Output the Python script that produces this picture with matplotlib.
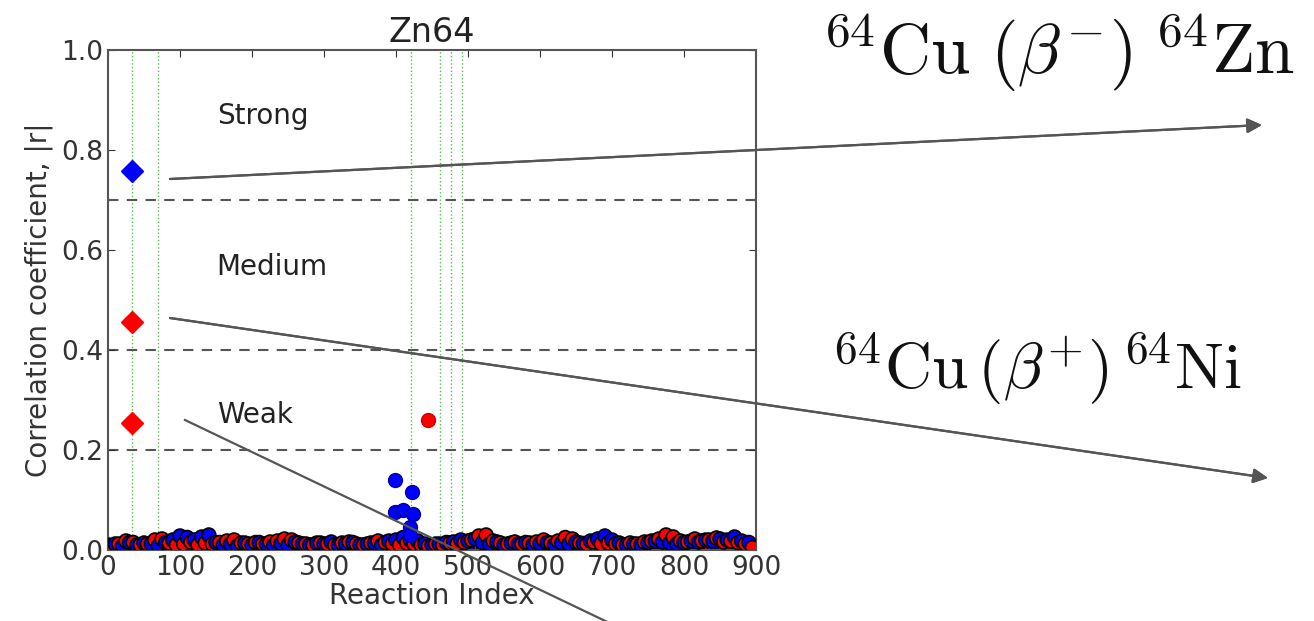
import numpy as np
import matplotlib
matplotlib.use('Agg')
import matplotlib.pyplot as plt
from matplotlib.lines import Line2D

plt.rcParams['mathtext.fontset'] = 'cm'

# reaction index of the background points
blue_idx = list(range(0, 900, 10))
red_idx = list(range(5, 900, 10))
blue_low_idx = list(range(2, 900, 10))
red_low_idx = list(range(7, 900, 10))

blue_r = [0.010, 0.012, 0.008, 0.015, 0.010, 0.014, 0.012, 0.008, 0.015, 0.020,
          0.028, 0.025, 0.020, 0.026, 0.030, 0.015, 0.010, 0.012, 0.008, 0.014,
          0.010, 0.015, 0.012, 0.009, 0.013, 0.010, 0.016, 0.012, 0.010, 0.014,
          0.012, 0.016, 0.010, 0.013, 0.015, 0.010, 0.012, 0.014, 0.010, 0.018,
          0.020, 0.025, 0.020, 0.018, 0.012, 0.010, 0.012, 0.015, 0.016, 0.020,
          0.018, 0.022, 0.015, 0.012, 0.016, 0.010, 0.014, 0.012, 0.015, 0.010,
          0.013, 0.015, 0.010, 0.014, 0.012, 0.016, 0.013, 0.018, 0.022, 0.028,
          0.020, 0.014, 0.010, 0.012, 0.010, 0.015, 0.018, 0.016, 0.014, 0.012,
          0.015, 0.018, 0.016, 0.020, 0.018, 0.022, 0.020, 0.026, 0.018, 0.015]

red_r = [0.008, 0.012, 0.018, 0.015, 0.010, 0.012, 0.020, 0.022, 0.014, 0.010,
         0.012, 0.016, 0.010, 0.014, 0.012, 0.015, 0.018, 0.020, 0.014, 0.012,
         0.015, 0.012, 0.016, 0.018, 0.022, 0.020, 0.014, 0.012, 0.010, 0.014,
         0.012, 0.010, 0.014, 0.016, 0.012, 0.010, 0.014, 0.018, 0.015, 0.012,
         0.010, 0.014, 0.012, 0.010, 0.008, 0.012, 0.010, 0.014, 0.012, 0.015,
         0.020, 0.028, 0.030, 0.018, 0.014, 0.012, 0.016, 0.012, 0.014, 0.016,
         0.020, 0.014, 0.018, 0.025, 0.022, 0.014, 0.012, 0.016, 0.012, 0.014,
         0.012, 0.010, 0.014, 0.012, 0.016, 0.018, 0.022, 0.030, 0.026, 0.018,
         0.016, 0.022, 0.018, 0.020, 0.024, 0.016, 0.018, 0.015, 0.012, 0.005]

blue_low_r = [0.004, 0.006, 0.003, 0.005, 0.007, 0.004, 0.006, 0.003, 0.005, 0.006,
              0.008, 0.005, 0.007, 0.004, 0.006, 0.005, 0.003, 0.006, 0.004, 0.005,
              0.006, 0.004, 0.007, 0.003, 0.005, 0.006, 0.004, 0.005, 0.003, 0.006,
              0.005, 0.004, 0.006, 0.003, 0.005, 0.007, 0.004, 0.006, 0.005, 0.008,
              0.012, 0.018, 0.010, 0.006, 0.004, 0.005, 0.003, 0.006, 0.005, 0.007,
              0.004, 0.006, 0.005, 0.003, 0.006, 0.004, 0.005, 0.007, 0.004, 0.006,
              0.003, 0.005, 0.006, 0.004, 0.005, 0.007, 0.004, 0.006, 0.005, 0.008,
              0.006, 0.004, 0.005, 0.003, 0.006, 0.004, 0.007, 0.005, 0.004, 0.006,
              0.005, 0.007, 0.004, 0.006, 0.005, 0.008, 0.006, 0.007, 0.005, 0.004]

red_low_r = [0.003, 0.005, 0.006, 0.004, 0.003, 0.005, 0.007, 0.004, 0.006, 0.003,
             0.005, 0.004, 0.006, 0.003, 0.005, 0.004, 0.006, 0.005, 0.003, 0.006,
             0.004, 0.005, 0.003, 0.006, 0.007, 0.005, 0.004, 0.006, 0.003, 0.005,
             0.004, 0.006, 0.003, 0.005, 0.004, 0.006, 0.005, 0.003, 0.006, 0.004,
             0.005, 0.003, 0.006, 0.004, 0.005, 0.003, 0.004, 0.006, 0.003, 0.005,
             0.006, 0.008, 0.007, 0.004, 0.005, 0.003, 0.006, 0.004, 0.005, 0.003,
             0.006, 0.004, 0.005, 0.007, 0.006, 0.004, 0.003, 0.005, 0.004, 0.006,
             0.003, 0.005, 0.004, 0.006, 0.003, 0.005, 0.006, 0.008, 0.006, 0.004,
             0.005, 0.006, 0.004, 0.005, 0.007, 0.004, 0.005, 0.003, 0.006, 0.004]

# the few points standing out of the band
blue_hi_idx = [399, 422, 399, 410, 424, 419, 419]
blue_hi_r = [0.140, 0.117, 0.077, 0.080, 0.073, 0.047, 0.030]
red_hi_idx = [444]
red_hi_r = [0.260]

# decay rates (diamonds)
diam_idx = [34, 34, 34]
diam_r = [0.758, 0.457, 0.255]
diam_col = ['blue', 'red', 'red']

green_lines = [34, 70, 421, 461, 476, 492]
thresholds = [0.2, 0.4, 0.7]

fig = plt.figure(figsize=(13.14, 6.21), dpi=100)
ax = fig.add_axes([0.0822, 0.1143, 0.4932, 0.8052])

for g in green_lines:
    ax.axvline(g, color='#55bb55', ls=':', lw=1.0, zorder=1)
for t in thresholds:
    ax.axhline(t, color='#555555', ls='--', lw=1.5, dashes=(5, 4), zorder=1)

# interleave both reactions so colours overlap left to right
def band(bx, by, rx, ry):
    x = np.concatenate([bx, rx])
    y = np.concatenate([by, ry])
    c = ['blue'] * len(bx) + ['red'] * len(rx)
    order = np.argsort(x, kind='stable')
    return x[order], y[order], [c[i] for i in order]

lx, ly, lc = band(blue_low_idx, blue_low_r, red_low_idx, red_low_r)
ax.scatter(lx, ly, s=100, c=lc, edgecolors='black', linewidths=1.2, zorder=2)
hx, hy, hc = band(blue_idx, blue_r, red_idx, red_r)
ax.scatter(hx, hy, s=100, c=hc, edgecolors='black', linewidths=1.2, zorder=3)

ax.plot(blue_hi_idx, blue_hi_r, 'o', color='blue', mec='#0000aa', ms=10, zorder=4)
ax.plot(red_hi_idx, red_hi_r, 'o', color='red', mec='#cc0000', ms=10, zorder=4)
for x, y, c in zip(diam_idx, diam_r, diam_col):
    ax.plot(x, y, 'D', color=c, mec=c, ms=11, zorder=4)

ax.text(151, 0.868, 'Strong', fontsize=20, va='center', color='#222222')
ax.text(151, 0.566, 'Medium', fontsize=20, va='center', color='#222222')
ax.text(151, 0.27, 'Weak', fontsize=20, va='center', color='#222222')

ax.set_xlim(0, 900)
ax.set_ylim(0, 1.0)
ax.set_xticks(range(0, 901, 100))
ax.set_yticks([0.0, 0.2, 0.4, 0.6, 0.8, 1.0])
ax.set_yticklabels(['0.0', '0.2', '0.4', '0.6', '0.8', '1.0'])
ax.tick_params(direction='in', top=True, right=True, length=5, labelsize=19,
               colors='#333333')
for s in ax.spines.values():
    s.set_color('#555555')
    s.set_linewidth(1.5)
ax.set_title('Zn64', fontsize=24, color='#222222', pad=6)
ax.set_xlabel('Reaction Index', fontsize=20, color='#333333', labelpad=1)
ax.set_ylabel('Correlation coefficient, |r|', fontsize=20, color='#333333', labelpad=6)

W, H = 1314.0, 621.0
def fp(x, y):
    return (x / W, 1 - y / H)

ann_col = '#555555'
fig.add_artist(plt.annotate('', xy=fp(1262, 125), xytext=fp(170, 179),
                            xycoords='figure fraction', textcoords='figure fraction',
                            arrowprops=dict(arrowstyle='-|>', color=ann_col, lw=1.6,
                                            mutation_scale=22, shrinkA=0, shrinkB=0)))
fig.add_artist(plt.annotate('', xy=fp(1268, 478), xytext=fp(170, 318),
                            xycoords='figure fraction', textcoords='figure fraction',
                            arrowprops=dict(arrowstyle='-|>', color=ann_col, lw=1.6,
                                            mutation_scale=22, shrinkA=0, shrinkB=0)))
x0, y0 = fp(185, 420)
x1, y1 = fp(620, 628)
fig.add_artist(Line2D([x0, x1], [y0, y1], transform=fig.transFigure,
                      color=ann_col, lw=1.6, zorder=5))

fig.text(822 / W, 1 - 74 / H, r'$^{64}\mathrm{Cu}\ (\beta^{-})\;^{64}\mathrm{Zn}$',
         fontsize=51, ha='left', va='baseline', color='#111111')
fig.text(832 / W, 1 - 389 / H, r'$^{64}\mathrm{Cu}\,(\beta^{+})\,^{64}\mathrm{Ni}$',
         fontsize=47, ha='left', va='baseline', color='#111111')

fig.savefig('out.png', dpi=100)
